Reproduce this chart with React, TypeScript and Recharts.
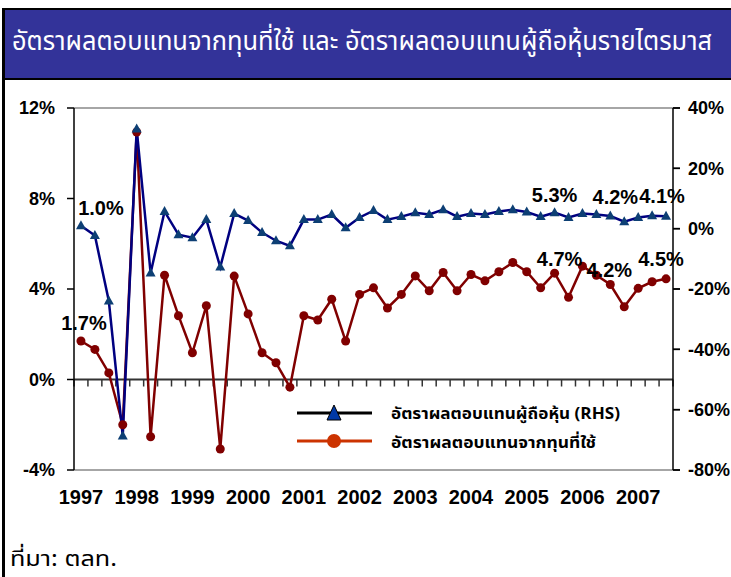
import React from "react";
import {
  ComposedChart,
  Line,
  XAxis,
  YAxis,
  ReferenceLine,
} from "recharts";

// quarterly, 1997Q1 - 2007Q3
const years = ["1997", "1998", "1999", "2000", "2001", "2002", "2003", "2004", "2005", "2006", "2007"];

// อัตราผลตอบแทนผู้ถือหุ้น (RHS), %
const roe = [
  1.0, -2.3, -24, -68.7, 33, -14.7, 5.7, -2, -3, 3, -12.7, 5, 2.7, -1.3, -4,
  -5.7, 3, 3, 4.7, 0.3, 3.7, 6, 3, 4, 5.3, 4.7, 6.3, 4, 5, 4.7, 5.7, 6.3, 5.5,
  4, 5.3, 3.7, 5, 4.7, 4.2, 2.3, 3.7, 4.3, 4.1,
];

// อัตราผลตอบแทนจากทุนที่ใช้ (LHS), %
const roce = [
  1.7, 1.33, 0.29, -2.0, 10.94, -2.53, 4.61, 2.82, 1.18, 3.26, -3.07, 4.57, 2.9,
  1.18, 0.74, -0.34, 2.82, 2.63, 3.55, 1.7, 3.76, 4.05, 3.16, 3.76, 4.58, 3.92,
  4.73, 3.92, 4.64, 4.36, 4.76, 5.17, 4.76, 4.05, 4.7, 3.63, 5.01, 4.61, 4.2,
  3.21, 4.03, 4.32, 4.45,
];

const leftTicks = [-4, 0, 4, 8, 12];
const rightTicks = [-80, -60, -40, -20, 0, 20, 40];

// callouts: point index -> text
const roeNotes: Record<number, string> = { 0: "1.0%", 34: "5.3%", 38: "4.2%", 42: "4.1%" };
const roceNotes: Record<number, string> = { 0: "1.7%", 34: "4.7%", 38: "4.2%", 42: "4.5%" };
const roeNoteShift: Record<number, [number, number]> = { 0: [20, -11], 34: [0, -11], 38: [5, -12], 42: [-4, -13] };
const roceNoteShift: Record<number, [number, number]> = { 0: [3, -11], 34: [5, -7], 38: [-1, -7], 42: [-5, -13] };

const data = roe.map((v, i) => ({ i, roe: v, roce: roce[i] }));
const yearTicks = years.map((_, k) => k * 4);
const tickBounds = Array.from({ length: roe.length + 1 }, (_, k) => k - 0.5);

const AXIS_FONT = '"Liberation Sans", Arial, sans-serif';
const THAI_FONT = '"Noto Sans Thai", Tahoma, "DejaVu Sans", sans-serif';

const Triangle = (props: any) => {
  const { cx, cy } = props;
  if (cx == null || cy == null) return <g />;
  return (
    <path
      d={`M${cx},${cy - 5.5} L${cx + 5},${cy + 3.5} L${cx - 5},${cy + 3.5} Z`}
      fill="#0d3f74"
    />
  );
};

// right axis ticks cross the axis line in the original
const RightTick = (props: any) => {
  const { x, y, payload } = props;
  return (
    <g>
      <line x1={x - 15} y1={y} x2={x - 8} y2={y} stroke="#000" strokeWidth={1.5} />
      <text
        x={x}
        y={y}
        dy="0.355em"
        textAnchor="start"
        fontFamily={AXIS_FONT}
        fontWeight="bold"
        fontSize={18}
        fill="#000"
      >
        {`${payload.value}%`}
      </text>
    </g>
  );
};

const noteLabel = (notes: Record<number, string>, shift: Record<number, [number, number]>) =>
  (props: any) => {
    const { x, y, index } = props;
    const t = notes[index];
    if (!t) return <g key={`n${index}`} />;
    const [dx, dy] = shift[index];
    return (
      <text
        key={`n${index}`}
        x={x + dx}
        y={y + dy}
        textAnchor="middle"
        fontFamily={AXIS_FONT}
        fontWeight="bold"
        fontSize={20}
        fill="#000"
      >
        {t}
      </text>
    );
  };

export default function App() {
  return (
    <div
      style={{
        position: "absolute",
        left: 0,
        top: 0,
        width: 731,
        height: 577,
        background: "#fff",
        overflow: "hidden",
      }}
    >
      <div
        style={{
          position: "absolute",
          left: 2,
          top: 8,
          width: 740,
          height: 68,
          background: "#333399",
          borderTop: "2px solid #000",
          borderBottom: "2px solid #000",
        }}
      />
      <div style={{ position: "absolute", left: 2, top: 8, width: 3, height: 569, background: "#000" }} />
      <svg width={731} height={80} style={{ position: "absolute", left: 0, top: 0 }}>
        <text
          x={12}
          y={50}
          fill="#fff"
          fontSize={26}
          fontFamily={THAI_FONT}
          textLength={700}
          lengthAdjust="spacingAndGlyphs"
        >
          อัตราผลตอบแทนจากทุนที่ใช้ และ อัตราผลตอบแทนผู้ถือหุ้นรายไตรมาส
        </text>
      </svg>

      <div style={{ position: "absolute", left: 0, top: 0 }}>
        <ComposedChart
          width={731}
          height={577}
          data={data}
          margin={{ top: 108, right: 0, bottom: 77, left: 14 }}
        >
          <XAxis
            dataKey="i"
            type="number"
            domain={[-0.5, roe.length - 0.5]}
            ticks={yearTicks}
            tickFormatter={(v) => years[v / 4]}
            axisLine={false}
            tickLine={false}
            tickMargin={14}
            tick={{ fill: "#000", fontSize: 20, fontWeight: "bold", fontFamily: AXIS_FONT }}
            interval={0}
            height={30}
          />
          <YAxis
            yAxisId="l"
            domain={[-4, 12]}
            ticks={leftTicks}
            tickFormatter={(v) => `${v}%`}
            width={60}
            axisLine={{ stroke: "#000", strokeWidth: 1.5 }}
            tickLine={{ stroke: "#000", strokeWidth: 1.5 }}
            tickSize={7}
            tickMargin={12}
            tick={{ fill: "#000", fontSize: 18, fontWeight: "bold", fontFamily: AXIS_FONT }}
            interval={0}
          />
          <YAxis
            yAxisId="r"
            orientation="right"
            domain={[-80, 40]}
            ticks={rightTicks}
            width={58}
            axisLine={{ stroke: "#000", strokeWidth: 1.5 }}
            tickLine={{ stroke: "#000", strokeWidth: 1.5 }}
            tickSize={7}
            tickMargin={8}
            tick={<RightTick />}
            interval={0}
          />
          <ReferenceLine yAxisId="l" y={12} stroke="#a6a6a6" strokeWidth={2} />
          <ReferenceLine yAxisId="l" y={-4} stroke="#a6a6a6" strokeWidth={2} />
          <ReferenceLine yAxisId="l" y={0} stroke="#333" strokeWidth={2} />
          {tickBounds.map((b) => (
            <ReferenceLine
              key={`t${b}`}
              yAxisId="l"
              segment={[
                { x: b, y: 0 },
                { x: b, y: -0.31 },
              ]}
              stroke="#333"
              strokeWidth={1.5}
            />
          ))}
          <Line
            yAxisId="l"
            dataKey="roce"
            stroke="#800000"
            strokeWidth={2.5}
            dot={{ r: 4.5, fill: "#800000", stroke: "none" }}
            isAnimationActive={false}
            label={noteLabel(roceNotes, roceNoteShift)}
          />
          <Line
            yAxisId="r"
            dataKey="roe"
            stroke="#000080"
            strokeWidth={2.5}
            dot={<Triangle />}
            isAnimationActive={false}
            label={noteLabel(roeNotes, roeNoteShift)}
          />
        </ComposedChart>
      </div>

      <svg width={731} height={577} style={{ position: "absolute", left: 0, top: 0, pointerEvents: "none" }}>
        <line x1={297} y1={413} x2={372} y2={413} stroke="#000" strokeWidth={3} />
        <path d="M334,405 L341,420 L327,420 Z" fill="#0039a6" stroke="#000" strokeWidth={1} />
        <text
          x={391}
          y={419}
          fontSize={16}
          fontWeight="bold"
          fontFamily={THAI_FONT}
          textLength={229}
          lengthAdjust="spacingAndGlyphs"
        >
          อัตราผลตอบแทนผู้ถือหุ้น (RHS)
        </text>
        <line x1={297} y1={441} x2={372} y2={441} stroke="#cc3300" strokeWidth={3} />
        <circle cx={334} cy={441} r={7} fill="#cc3300" />
        <text
          x={391}
          y={448}
          fontSize={16}
          fontWeight="bold"
          fontFamily={THAI_FONT}
          textLength={205}
          lengthAdjust="spacingAndGlyphs"
        >
          อัตราผลตอบแทนจากทุนที่ใช้
        </text>
        <text
          x={10}
          y={566}
          fontSize={22}
          fontFamily={THAI_FONT}
          textLength={107}
          lengthAdjust="spacingAndGlyphs"
        >
          ที่มา: ตลท.
        </text>
      </svg>
    </div>
  );
}
